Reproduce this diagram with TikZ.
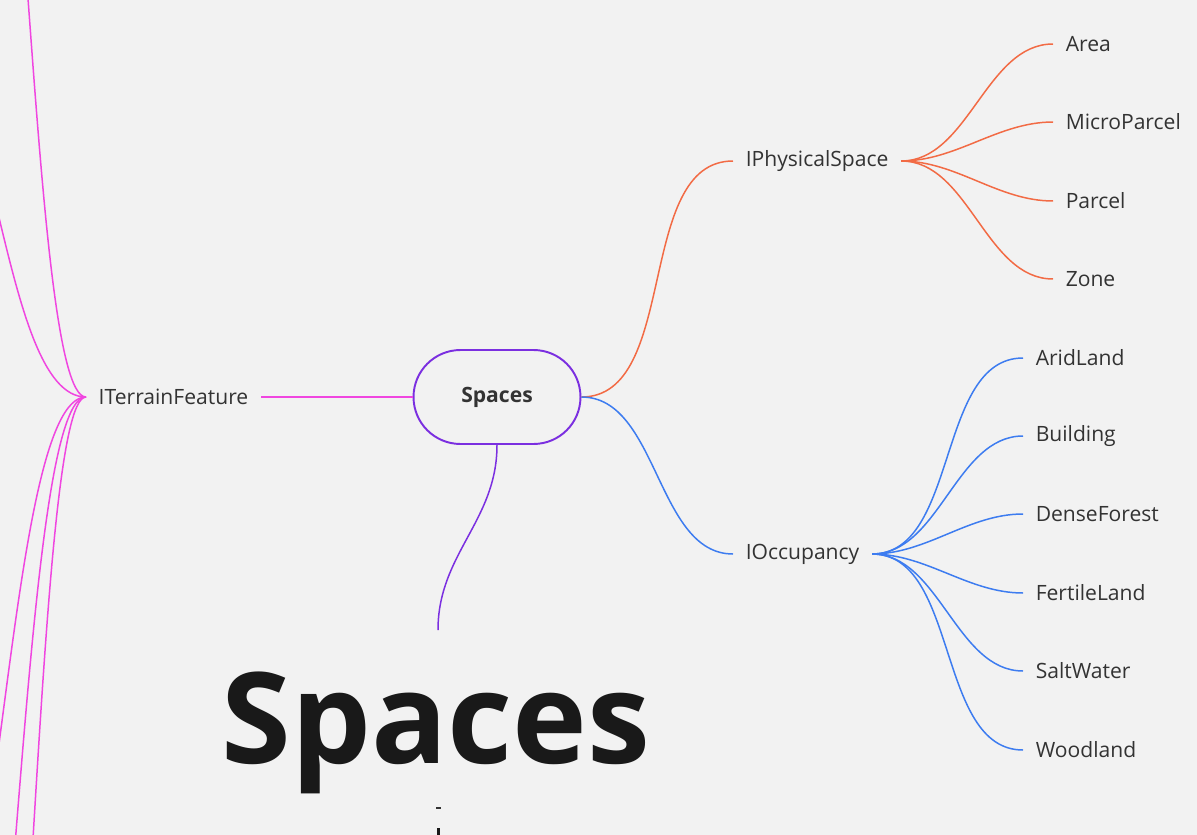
\documentclass[tikz,border=0pt]{standalone}
\usepackage{fontspec}
\setmainfont{Open Sans}
\usepackage{tikz}

\definecolor{bgc}{HTML}{F2F2F2}
\definecolor{txt}{HTML}{333333}
\definecolor{rootc}{HTML}{7B2FE0}
\definecolor{orangec}{HTML}{F26B45}
\definecolor{bluec}{HTML}{3D7CF0}
\definecolor{pinkc}{HTML}{F046E0}

\begin{document}
\begin{tikzpicture}[x=0.02cm, y=-0.02cm, line width=0.85pt,
  every node/.style={text=txt, font=\fontsize{12pt}{14pt}\selectfont},
  leaf/.style={anchor=west, inner xsep=0.24cm, inner ysep=2pt},
  rootbox/.style={draw=rootc, line width=1.1pt, rounded corners=0.94cm, minimum width=3.34cm, minimum height=1.88cm, font=\fontsize{12pt}{14pt}\selectfont\bfseries},
  twig/.style={out=0, in=180, looseness=0.9}]
\useasboundingbox[fill=bgc] (0,0) rectangle (1197,835);
\clip (0,0) rectangle (1197,835);

\node[rootbox] (spc) at (497,397) {Spaces};
\node[anchor=base, inner sep=0pt, text=black!90, font=\fontsize{72pt}{80pt}\selectfont\bfseries] (title) at (436,763) {Spaces};

\node[leaf] (phy) at (733,161) {IPhysicalSpace};
\node[leaf] (occ) at (733,554) {IOccupancy};
\node[leaf] (ter) at (86,397) {ITerrainFeature};

\node[leaf] (area) at (1053,44) {Area};
\node[leaf] (micro) at (1053,122) {MicroParcel};
\node[leaf] (parcel) at (1053,201) {Parcel};
\node[leaf] (zone) at (1053,279) {Zone};

\node[leaf] (arid) at (1023,358) {AridLand};
\node[leaf] (bldg) at (1023,436) {Building};
\node[leaf] (dense) at (1023,514) {DenseForest};
\node[leaf] (fert) at (1023,593) {FertileLand};
\node[leaf] (salt) at (1023,671) {SaltWater};
\node[leaf] (wood) at (1023,750) {Woodland};

\coordinate (t1) at (-30,-400);
\coordinate (t2) at (-90,30);
\coordinate (t3) at (-80,1030);
\coordinate (t4) at (-20,1280);
\coordinate (t5) at (-55,1280);

\draw[orangec] (spc.east) to[twig] (phy.west);
\foreach \c in {area,micro,parcel,zone}
  \draw[orangec] (phy.east) to[twig] (\c.west);

\draw[bluec] (spc.east) to[twig] (occ.west);
\foreach \c in {arid,bldg,dense,fert,salt,wood}
  \draw[bluec] (occ.east) to[twig] (\c.west);

\draw[pinkc] (ter.east) -- (spc.west);
\draw[pinkc] (ter.west) to[out=180, in=0, out distance=1.15cm, in distance=1.15cm] (t1);
\draw[pinkc] (ter.west) to[out=180, in=0, out distance=1.75cm, in distance=1.75cm] (t2);
\draw[pinkc] (ter.west) to[out=180, in=0, out distance=1.65cm, in distance=1.65cm] (t3);
\draw[pinkc] (ter.west) to[out=180, in=0, out distance=1.05cm, in distance=1.05cm] (t4);
\draw[pinkc] (ter.west) to[out=180, in=0, out distance=1.4cm, in distance=1.4cm] (t5);

\draw[rootc] (spc.south) to[out=-90, in=90] (438,630);

\draw[black!80, line width=1pt] (436,808) -- (441,808);
\draw[black!90, line width=2pt] (438.5,828) -- (438.5,840);
\end{tikzpicture}
\end{document}
